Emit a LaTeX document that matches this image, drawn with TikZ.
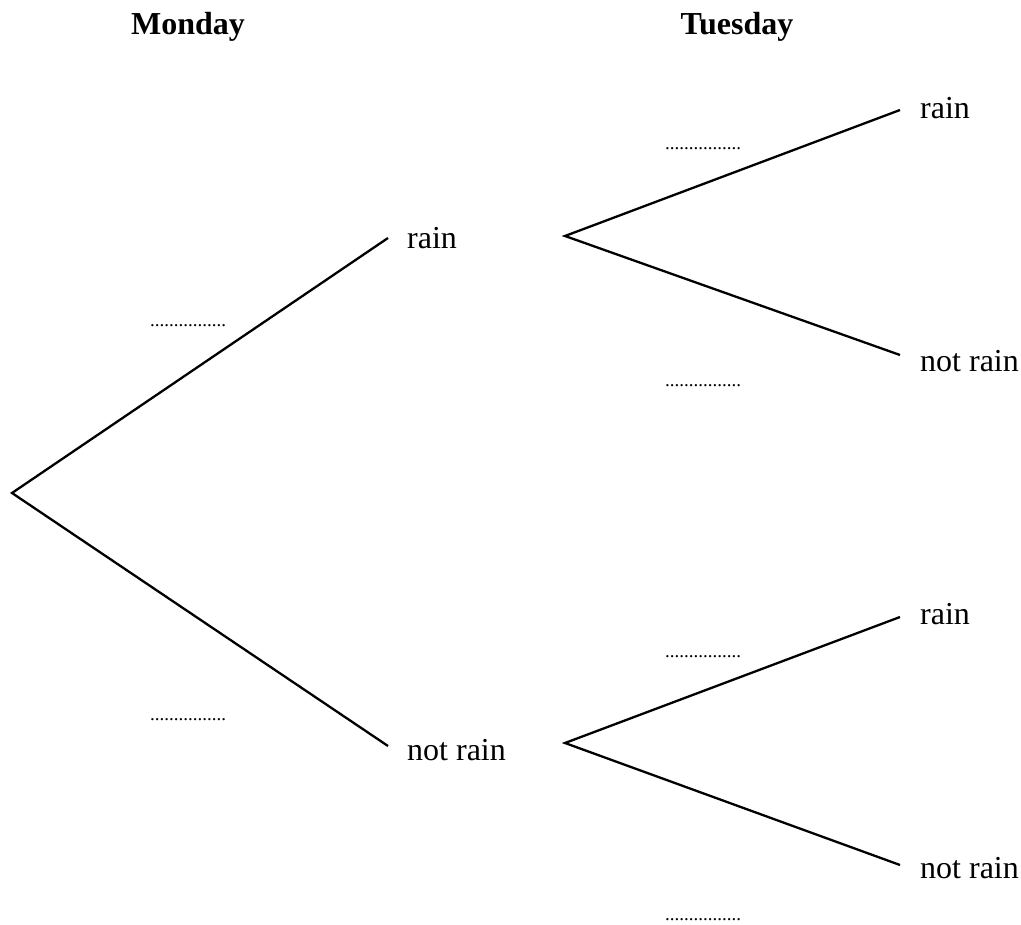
\documentclass[tikz,border=0pt]{standalone}
\usepackage{fontspec}
\setmainfont{Liberation Serif}
\begin{document}
\begin{tikzpicture}[x=1pt,y=-1pt,
  lbl/.style={inner sep=0pt, anchor=west, font=\fontsize{32}{36}\selectfont},
  hdr/.style={inner sep=0pt, anchor=base, font=\fontsize{32}{36}\selectfont\bfseries},
  blank/.style={inner sep=0pt, anchor=base west, font=\fontsize{19}{22}\selectfont},
  branch/.style={line width=2.3pt, line cap=butt}]
\useasboundingbox (0,0) rectangle (1021,925);
\node[hdr] (mon) at (188,35) {Monday};
\node[hdr] (tue) at (737,35) {Tuesday};
\coordinate (r0) at (12,493);
\coordinate (aR) at (388,238);
\coordinate (aN) at (388,746);
\coordinate (bR) at (565,236);
\coordinate (bN) at (565,743);
\coordinate (cRR) at (900,110);
\coordinate (cRN) at (900,355);
\coordinate (cNR) at (900,617);
\coordinate (cNN) at (900,865);
\node[lbl] (tR) at (407,238) {rain};
\node[lbl] (tN) at (407,750) {not rain};
\node[lbl] (tRR) at (920,108) {rain};
\node[lbl] (tRN) at (920,361) {not rain};
\node[lbl] (tNR) at (920,614) {rain};
\node[lbl] (tNN) at (920,868) {not rain};
\draw[branch] (aR) -- (r0) -- (aN);
\draw[branch] (cRR) -- (bR) -- (cRN);
\draw[branch] (cNR) -- (bN) -- (cNN);
\node[blank] (d1) at (150,327) {................};
\node[blank] (d2) at (150,720) {................};
\node[blank] (d3) at (665,150) {................};
\node[blank] (d4) at (665,387) {................};
\node[blank] (d5) at (665,657) {................};
\node[blank] (d6) at (665,920) {................};
\end{tikzpicture}
\end{document}
